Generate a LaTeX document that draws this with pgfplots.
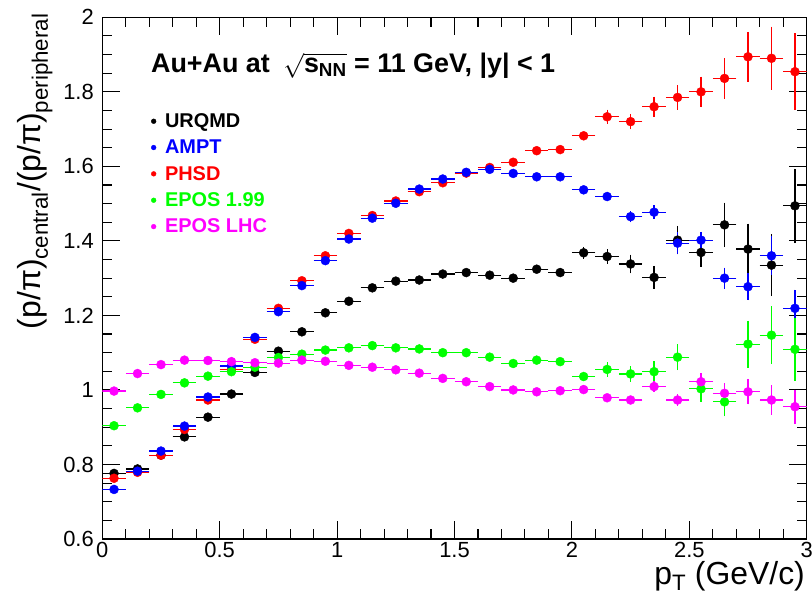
\documentclass[border=0pt]{standalone}
\usepackage{fontspec}
\setmainfont{Liberation Sans}
\usepackage{amsmath}
\usepackage{pgfplots}
\usepackage{pgfplotstable}
\pgfplotsset{compat=1.18}
\definecolor{rblack}{RGB}{0,0,0}
\definecolor{rblue}{RGB}{0,0,255}
\definecolor{rred}{RGB}{255,0,0}
\definecolor{rgreen}{RGB}{0,255,0}
\definecolor{rmag}{RGB}{255,0,255}

% x  ex  y  ey
\pgfplotstableread{
x ex y ey
0.05 0.05 0.776 0.004
0.15 0.05 0.788 0.004
0.25 0.05 0.825 0.004
0.35 0.05 0.874 0.004
0.45 0.05 0.927 0.004
0.55 0.05 0.989 0.004
0.65 0.05 1.047 0.004
0.75 0.05 1.104 0.005
0.85 0.05 1.156 0.005
0.95 0.05 1.207 0.005
1.05 0.05 1.238 0.005
1.15 0.05 1.274 0.006
1.25 0.05 1.292 0.006
1.35 0.05 1.295 0.007
1.45 0.05 1.311 0.008
1.55 0.05 1.315 0.008
1.65 0.05 1.308 0.009
1.75 0.05 1.300 0.010
1.85 0.05 1.324 0.011
1.95 0.05 1.315 0.012
2.05 0.05 1.368 0.016
2.15 0.05 1.358 0.019
2.25 0.05 1.338 0.025
2.35 0.05 1.302 0.031
2.45 0.05 1.402 0.038
2.55 0.05 1.369 0.039
2.65 0.05 1.443 0.060
2.75 0.05 1.378 0.068
2.85 0.05 1.335 0.083
2.95 0.05 1.494 0.100
}\urqmd

\pgfplotstableread{
x ex y ey
0.05 0.05 0.733 0.004
0.15 0.05 0.782 0.004
0.25 0.05 0.836 0.004
0.35 0.05 0.903 0.004
0.45 0.05 0.981 0.004
0.55 0.05 1.064 0.004
0.65 0.05 1.141 0.004
0.75 0.05 1.210 0.005
0.85 0.05 1.280 0.005
0.95 0.05 1.347 0.005
1.05 0.05 1.405 0.005
1.15 0.05 1.461 0.006
1.25 0.05 1.501 0.006
1.35 0.05 1.539 0.006
1.45 0.05 1.566 0.007
1.55 0.05 1.584 0.007
1.65 0.05 1.592 0.008
1.75 0.05 1.581 0.008
1.85 0.05 1.572 0.009
1.95 0.05 1.572 0.010
2.05 0.05 1.537 0.011
2.15 0.05 1.519 0.013
2.25 0.05 1.465 0.015
2.35 0.05 1.477 0.018
2.45 0.05 1.394 0.029
2.55 0.05 1.402 0.022
2.65 0.05 1.300 0.028
2.75 0.05 1.277 0.036
2.85 0.05 1.360 0.052
2.95 0.05 1.219 0.050
}\ampt

\pgfplotstableread{
x ex y ey
0.05 0.05 0.763 0.004
0.15 0.05 0.779 0.004
0.25 0.05 0.825 0.004
0.35 0.05 0.894 0.004
0.45 0.05 0.973 0.004
0.55 0.05 1.054 0.004
0.65 0.05 1.136 0.004
0.75 0.05 1.219 0.005
0.85 0.05 1.293 0.005
0.95 0.05 1.360 0.005
1.05 0.05 1.420 0.005
1.15 0.05 1.468 0.006
1.25 0.05 1.507 0.006
1.35 0.05 1.532 0.006
1.45 0.05 1.556 0.007
1.55 0.05 1.582 0.007
1.65 0.05 1.597 0.008
1.75 0.05 1.611 0.008
1.85 0.05 1.642 0.009
1.95 0.05 1.645 0.010
2.05 0.05 1.682 0.011
2.15 0.05 1.733 0.019
2.25 0.05 1.720 0.021
2.35 0.05 1.760 0.027
2.45 0.05 1.785 0.033
2.55 0.05 1.800 0.041
2.65 0.05 1.836 0.054
2.75 0.05 1.894 0.067
2.85 0.05 1.890 0.085
2.95 0.05 1.854 0.103
}\phsd

\pgfplotstableread{
x ex y ey
0.05 0.05 0.904 0.004
0.15 0.05 0.952 0.004
0.25 0.05 0.988 0.004
0.35 0.05 1.019 0.004
0.45 0.05 1.037 0.004
0.55 0.05 1.049 0.004
0.65 0.05 1.061 0.004
0.75 0.05 1.087 0.005
0.85 0.05 1.096 0.005
0.95 0.05 1.107 0.005
1.05 0.05 1.113 0.005
1.15 0.05 1.119 0.006
1.25 0.05 1.113 0.006
1.35 0.05 1.110 0.006
1.45 0.05 1.100 0.007
1.55 0.05 1.100 0.007
1.65 0.05 1.088 0.008
1.75 0.05 1.071 0.008
1.85 0.05 1.080 0.009
1.95 0.05 1.076 0.010
2.05 0.05 1.036 0.013
2.15 0.05 1.055 0.019
2.25 0.05 1.043 0.021
2.35 0.05 1.049 0.028
2.45 0.05 1.088 0.035
2.55 0.05 1.003 0.036
2.65 0.05 0.968 0.039
2.75 0.05 1.123 0.063
2.85 0.05 1.147 0.078
2.95 0.05 1.109 0.085
}\eposa

\pgfplotstableread{
x ex y ey
0.05 0.05 0.997 0.004
0.15 0.05 1.044 0.004
0.25 0.05 1.068 0.004
0.35 0.05 1.080 0.004
0.45 0.05 1.079 0.004
0.55 0.05 1.076 0.004
0.65 0.05 1.073 0.004
0.75 0.05 1.072 0.005
0.85 0.05 1.080 0.005
0.95 0.05 1.077 0.005
1.05 0.05 1.066 0.005
1.15 0.05 1.061 0.005
1.25 0.05 1.054 0.006
1.35 0.05 1.045 0.006
1.45 0.05 1.031 0.006
1.55 0.05 1.022 0.007
1.65 0.05 1.009 0.007
1.75 0.05 1.000 0.007
1.85 0.05 0.995 0.008
1.95 0.05 0.998 0.008
2.05 0.05 1.001 0.008
2.15 0.05 0.979 0.009
2.25 0.05 0.973 0.010
2.35 0.05 1.009 0.014
2.45 0.05 0.973 0.016
2.55 0.05 1.022 0.023
2.65 0.05 0.991 0.027
2.75 0.05 0.995 0.034
2.85 0.05 0.973 0.039
2.95 0.05 0.955 0.046
}\eposlhc

\pgfplotsset{
  hist/.style={only marks, mark=*, mark size=4.5bp, draw=#1, fill=#1, color=#1,
    error bars/.cd, x dir=both, x explicit, y dir=both, y explicit,
    error mark=none, error bar style={line width=1.2bp, #1}},
}

\begin{document}
\begin{tikzpicture}
\begin{axis}[
  at={(0,0)}, anchor=south west,
  width=704.4bp, height=521.7bp, scale only axis,
  xmin=0, xmax=3, ymin=0.6, ymax=2,
  xtick={0,0.5,1,1.5,2,2.5,3},
  ytick={0.6,0.8,1,1.2,1.4,1.6,1.8,2},
  minor x tick num=4, minor y tick num=3,
  tick align=inside, tick pos=both, ticklabel pos=left,
  major tick length=18bp, minor tick length=10bp,
  every tick/.style={black, line width=1.1bp},
  axis line style={line width=1.2bp},
  /pgf/number format/assume math mode=true,
  tick label style={font=\fontsize{22}{22}\selectfont},
  yticklabel style={xshift=-5bp},
  xlabel={p\textsubscript{T} (GeV/c)},
  xlabel style={at={(axis description cs:0.9976,-0.0863)}, anchor=base east,
    inner sep=0pt, font=\fontsize{32}{32}\selectfont},
  ylabel={(p/π)\textsubscript{central}/(p/π)\textsubscript{peripheral}},
  ylabel style={at={(axis description cs:-0.121,1.008)}, anchor=north east,
    inner sep=0pt, font=\fontsize{32}{32}\selectfont},
  legend style={at={(axis description cs:0.065,0.8235)}, anchor=north west,
    draw=none, fill=none, font=\fontsize{20}{20}\selectfont\bfseries,
    row sep=7bp, /tikz/every odd column/.style={column sep=7bp}},
  legend cell align=left,
  legend image code/.code={\draw[#1] plot coordinates {(0bp,0bp)};},
]
\addlegendimage{only marks, mark=*, mark size=2.4bp, rblack}
\addlegendentry{\textcolor{rblack}{URQMD}}
\addlegendimage{only marks, mark=*, mark size=2.4bp, rblue}
\addlegendentry{\textcolor{rblue}{AMPT}}
\addlegendimage{only marks, mark=*, mark size=2.4bp, rred}
\addlegendentry{\textcolor{rred}{PHSD}}
\addlegendimage{only marks, mark=*, mark size=2.4bp, rgreen}
\addlegendentry{\textcolor{rgreen}{EPOS 1.99}}
\addlegendimage{only marks, mark=*, mark size=2.4bp, rmag}
\addlegendentry{\textcolor{rmag}{EPOS LHC}}

\addplot[forget plot, hist=rblack] table[x=x, y=y, x error=ex, y error=ey] {\urqmd};
\addplot[forget plot, hist=rred] table[x=x, y=y, x error=ex, y error=ey] {\phsd};
\addplot[forget plot, hist=rblue] table[x=x, y=y, x error=ex, y error=ey] {\ampt};
\addplot[forget plot, hist=rgreen] table[x=x, y=y, x error=ex, y error=ey] {\eposa};
\addplot[forget plot, hist=rmag] table[x=x, y=y, x error=ex, y error=ey] {\eposlhc};

\node[anchor=base west, inner sep=0pt, font=\fontsize{27}{27}\selectfont\bfseries]
  at (axis description cs:0.069,0.8946)
  {Au+Au at\enspace$\sqrt{\text{s}_{\text{NN}}}$ = 11 GeV, |y| < 1};
\end{axis}
\pgfresetboundingbox
\useasboundingbox (-102.3bp,-61bp) rectangle (709.7bp,539bp);
\end{tikzpicture}
\end{document}
